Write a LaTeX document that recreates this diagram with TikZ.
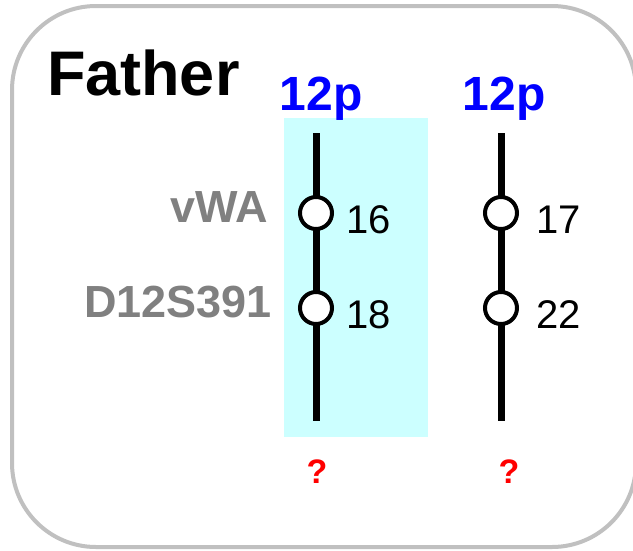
\documentclass[tikz,border=0pt]{standalone}
\usepackage{fontspec}
\setmainfont{Liberation Sans}
\definecolor{framegray}{HTML}{C0C0C0}
\definecolor{hlcyan}{HTML}{CCFFFF}
\definecolor{labgray}{HTML}{808080}
\begin{document}
\begin{tikzpicture}[x=1pt,y=-1pt,
  txt/.style={inner sep=0pt, outer sep=0pt},
  chrom/.style={line width=7pt},
  locus/.style={circle, draw=black, line width=4pt, fill=white, minimum size=32pt, inner sep=0pt},
  allele/.style={txt, anchor=base west, font=\fontsize{40}{40}\selectfont},
  lname/.style={txt, anchor=base east, text=labgray, font=\bfseries\fontsize{45}{45}\selectfont},
  arm/.style={txt, anchor=base, text=blue, font=\bfseries\fontsize{48}{48}\selectfont},
  qm/.style={txt, anchor=base, text=red, font=\bfseries\fontsize{34}{34}\selectfont}]
\useasboundingbox (0,0) rectangle (633,550);
\fill[white] (0,0) rectangle (633,550);
\draw[framegray, line width=4pt, rounded corners=84pt] (12,6) rectangle (636,547);
\node[txt, anchor=base west, font=\bfseries\fontsize{63}{63}\selectfont] (title) at (47,95) {Father};
\fill[hlcyan] (284,118) rectangle (428,437);
\node[arm] (arm1) at (321,110) {12p};
\node[arm] (arm2) at (504,110) {12p};
\coordinate (t1) at (316,133);
\coordinate (b1) at (316,421);
\coordinate (t2) at (501,133);
\coordinate (b2) at (501,421);
\draw[chrom] (t1) -- (b1);
\draw[chrom] (t2) -- (b2);
\node[locus] (c11) at (316,213) {};
\node[locus] (c12) at (316,308) {};
\node[locus] (c21) at (501,213) {};
\node[locus] (c22) at (501,308) {};
\node[allele] (n11) at (346,233) {16};
\node[allele] (n12) at (346,328) {18};
\node[allele] (n21) at (536,233) {17};
\node[allele] (n22) at (536,328) {22};
\node[lname] (vwa) at (268,222) {vWA};
\node[lname] (d12) at (272,317) {D12S391};
\node[qm] (q1) at (317,483) {?};
\node[qm] (q2) at (509,483) {?};
\end{tikzpicture}
\end{document}
